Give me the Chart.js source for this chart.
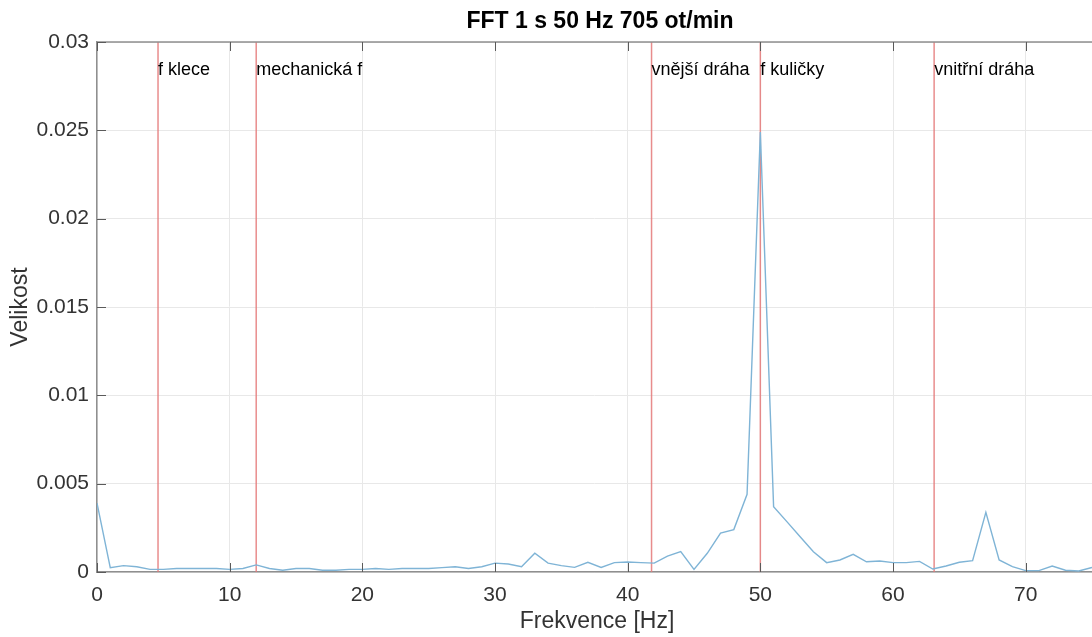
<!DOCTYPE html>
<html>
<head>
<meta charset="utf-8">
<script src="https://cdn.jsdelivr.net/npm/chart.js@4.4.1/dist/chart.umd.min.js"></script>
<style>
  body { margin: 0; background: #fff; }
  #wrap { width: 1092px; height: 637px; }
</style>
</head>
<body>
<div id="wrap"><canvas id="fft" width="1092" height="637"></canvas></div>
<script>
// FFT spectrum, 1 Hz bins
const freqs = [0,1,2,3,4,5,6,7,8,9,10,11,12,13,14,15,16,17,18,19,20,21,22,23,24,25,26,27,28,29,30,31,32,33,34,35,36,37,38,39,40,41,42,43,44,45,46,47,48,49,50,51,52,53,54,55,56,57,58,59,60,61,62,63,64,65,66,67,68,69,70,71,72,73,74,75];
const magnitudes = [0.0039,0.00024,0.00036,0.0003,0.00015,0.00015,0.0002,0.0002,0.0002,0.0002,0.00015,0.0002,0.0004,0.0002,0.0001,0.0002,0.0002,0.0001,0.0001,0.00015,0.00015,0.0002,0.00015,0.0002,0.0002,0.0002,0.00025,0.0003,0.0002,0.0003,0.0005,0.00045,0.0003,0.00106,0.0005,0.00036,0.00026,0.00055,0.00026,0.00053,0.00057,0.00053,0.0005,0.0009,0.00115,0.00015,0.00106,0.0022,0.0024,0.0044,0.0249,0.0037,0.00285,0.002,0.00115,0.00053,0.00068,0.001,0.00058,0.00062,0.00053,0.00053,0.0006,0.00017,0.00034,0.00055,0.00064,0.00338,0.00068,0.0003,0.00008,0.00008,0.00034,0.0001,0.00006,0.00026];

// characteristic bearing frequencies
const markerNames = ["f klece", "mechanická f", "vnější dráha", "f kuličky", "vnitřní dráha"];
const markerFreqs = [4.6, 12.0, 41.8, 50.0, 63.1];

const xTicks = [0, 10, 20, 30, 40, 50, 60, 70];
const yTicks = [0, 0.005, 0.01, 0.015, 0.02, 0.025, 0.03];
const yTickLabels = ["0", "0.005", "0.01", "0.015", "0.02", "0.025", "0.03"];

const FONT = "'Liberation Sans', Arial, sans-serif";
const AXIS_GREY = "#8f8f8f";
const TEXT_GREY = "#333333";

const datasets = markerFreqs.map(f => ({
    data: [{ x: f, y: 0 }, { x: f, y: 0.03 }],
    borderColor: "rgba(228,120,120,0.85)",
    borderWidth: 1.5,
    pointRadius: 0,
    order: 2
}));
datasets.push({
    data: freqs.map((f, i) => ({ x: f, y: magnitudes[i] })),
    borderColor: "#7fb4d6",
    borderWidth: 1.4,
    pointRadius: 0,
    tension: 0,
    order: 1
});

const decor = {
    id: "decor",
    afterDatasetsDraw(chart) {
        const { ctx, chartArea: a, scales: { x, y } } = chart;
        ctx.save();
        // top border
        ctx.strokeStyle = AXIS_GREY;
        ctx.lineWidth = 1.5;
        ctx.beginPath();
        ctx.moveTo(a.left, a.top);
        ctx.lineTo(a.right, a.top);
        ctx.stroke();
        // inward ticks
        ctx.strokeStyle = "#5a5a5a";
        ctx.lineWidth = 1;
        ctx.beginPath();
        xTicks.forEach(v => {
            const px = Math.round(x.getPixelForValue(v)) + 0.5;
            ctx.moveTo(px, a.bottom); ctx.lineTo(px, a.bottom - 9);
            ctx.moveTo(px, a.top); ctx.lineTo(px, a.top + 9);
        });
        yTicks.forEach(v => {
            const py = Math.round(y.getPixelForValue(v)) + 0.5;
            ctx.moveTo(a.left, py); ctx.lineTo(a.left + 9, py);
        });
        ctx.stroke();
        // marker labels
        ctx.fillStyle = "#000";
        ctx.font = "18px " + FONT;
        ctx.textBaseline = "middle";
        ctx.textAlign = "left";
        markerFreqs.forEach((f, i) => {
            ctx.fillText(markerNames[i], x.getPixelForValue(f), 70);
        });
        // title
        ctx.font = "bold 23px " + FONT;
        ctx.textAlign = "center";
        ctx.fillStyle = "#000";
        ctx.fillText("FFT 1 s 50 Hz 705 ot/min", 600, 22);
        // axis titles
        ctx.font = "23px " + FONT;
        ctx.fillStyle = TEXT_GREY;
        ctx.fillText("Frekvence [Hz]", 597, 622);
        ctx.translate(21, 307);
        ctx.rotate(-Math.PI / 2);
        ctx.fillText("Velikost", 0, 0);
        ctx.restore();
    }
};

new Chart(document.getElementById("fft"), {
    type: "line",
    data: { datasets },
    options: {
        responsive: false,
        animation: false,
        layout: { padding: { top: 42, right: 0, bottom: 0, left: 0 } },
        plugins: { legend: { display: false }, tooltip: { enabled: false } },
        scales: {
            x: {
                type: "linear",
                min: 0,
                max: 75,
                afterBuildTicks: s => { s.ticks = xTicks.map(v => ({ value: v })); },
                afterFit: s => { s.height = 65; },
                grid: { color: "#e8e8e8", lineWidth: 1, drawTicks: false },
                border: { color: AXIS_GREY, width: 1.5 },
                ticks: { padding: 11, color: TEXT_GREY, font: { family: FONT, size: 21 }, maxRotation: 0 }
            },
            y: {
                min: 0,
                max: 0.03,
                afterBuildTicks: s => { s.ticks = yTicks.map(v => ({ value: v })); },
                afterFit: s => { s.width = 97; },
                grid: { color: "#e8e8e8", lineWidth: 1, drawTicks: false },
                border: { color: AXIS_GREY, width: 1.5 },
                ticks: {
                    padding: 8,
                    color: TEXT_GREY,
                    font: { family: FONT, size: 21 },
                    callback: (v, i) => yTickLabels[i]
                }
            }
        }
    },
    plugins: [decor]
});
</script>
</body>
</html>
